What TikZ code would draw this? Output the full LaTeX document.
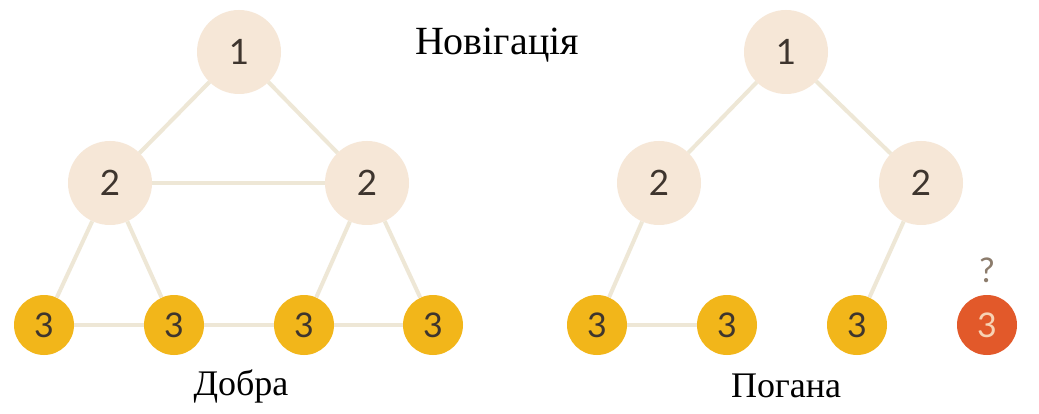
\documentclass[tikz,border=0pt]{standalone}
\usepackage{fontspec}
\setmainfont{Liberation Serif}
\newfontfamily\numfont{Lato}
\definecolor{peach}{HTML}{F6E7D7}
\definecolor{edgec}{HTML}{EEE7D6}
\definecolor{yell}{HTML}{F2B61A}
\definecolor{orng}{HTML}{E2592A}
\definecolor{digit}{HTML}{3E352E}
\definecolor{digitlight}{HTML}{F7D3B5}
\definecolor{qmark}{HTML}{8C7C6C}
\tikzset{
  bignode/.style={circle, fill=peach, minimum size=84pt, inner sep=0pt, text=digit, font=\numfont\fontsize{35}{38}\selectfont},
  smallnode/.style={circle, fill=yell, minimum size=60pt, inner sep=0pt, text=digit, font=\numfont\fontsize{34}{36}\selectfont},
  badnode/.style={smallnode, fill=orng, text=digitlight},
  link/.style={draw=edgec, line width=4pt},
  lbl/.style={font=\fontsize{36}{40}\selectfont, text=black, inner sep=0pt}
}
\begin{document}
\begin{tikzpicture}[x=1pt,y=-1pt]
\useasboundingbox[fill=white] (0,0) rectangle (1039,414);
% left tree
\node[bignode] (L1) at (239,52) {1};
\node[bignode] (L2a) at (110,183) {2};
\node[bignode] (L2b) at (367,183) {2};
\node[smallnode] (L3a) at (44,325) {3};
\node[smallnode] (L3b) at (174,325) {3};
\node[smallnode] (L3c) at (304,325) {3};
\node[smallnode] (L3d) at (433,325) {3};
% right tree
\node[bignode] (R1) at (786,52) {1};
\node[bignode] (R2a) at (659,183) {2};
\node[bignode] (R2b) at (921,183) {2};
\node[smallnode] (R3a) at (597,325) {3};
\node[smallnode] (R3b) at (727,325) {3};
\node[smallnode] (R3c) at (857,325) {3};
\node[badnode] (R3d) at (987,325) {3};
% labels
\node[lbl, font=\fontsize{40}{44}\selectfont] (title) at (497,45) {Новігація};
\node[lbl] (good) at (241,386) {Добра};
\node[lbl] (bad) at (786,386) {Погана};
\node[font=\numfont\fontsize{34}{36}\selectfont, text=qmark, inner sep=0pt] (q) at (987,270) {?};
% edges left
\path[link] (L1) -- (L2a);
\path[link] (L1) -- (L2b);
\path[link] (L2a) -- (L2b);
\path[link] (L2a) -- (L3a);
\path[link] (L2a) -- (L3b);
\path[link] (L2b) -- (L3c);
\path[link] (L2b) -- (L3d);
\path[link] (L3a) -- (L3b);
\path[link] (L3b) -- (L3c);
\path[link] (L3c) -- (L3d);
% edges right
\path[link] (R1) -- (R2a);
\path[link] (R1) -- (R2b);
\path[link] (R2a) -- (R3a);
\path[link] (R3a) -- (R3b);
\path[link] (R2b) -- (R3c);
\end{tikzpicture}
\end{document}
